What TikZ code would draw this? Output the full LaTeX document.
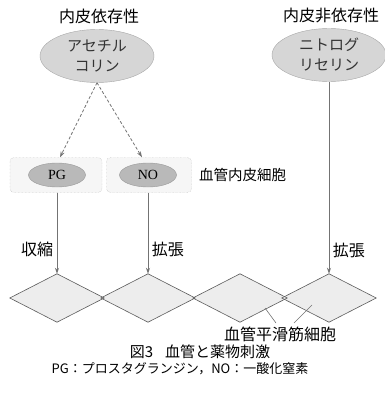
\documentclass[tikz,border=0pt]{standalone}
\usepackage{fontspec}
\setmainfont{Liberation Serif}
\newfontfamily\jpfont{Noto Sans CJK JP}
\usetikzlibrary{arrows.meta,positioning,shapes.geometric}
\definecolor{stipple}{gray}{0.84}
\definecolor{linegray}{gray}{0.45}
\tikzset{
  jp/.style={font=\jpfont\fontsize{16}{19}\selectfont, text=black},
  drug/.style={ellipse, draw=gray!70, fill=stipple, inner sep=0pt, align=center,
    minimum width=114pt, minimum height=53pt, font=\jpfont\fontsize{15}{20}\selectfont, text=gray!40!black},
  mediator/.style={ellipse, draw=gray!80, fill=gray!55, inner sep=0pt,
    minimum width=57pt, minimum height=24pt, font=\fontsize{14}{15}\selectfont},
  cellbox/.style={draw=gray!65, densely dotted, rounded corners=4pt, fill=gray!7,
    minimum height=35pt},
  muscle/.style={diamond, fill=gray!14, inner sep=0pt, minimum width=94pt, minimum height=48pt},
  feed/.style={-{Stealth[length=6pt,width=4pt]}, linegray, line width=1pt},
  dashed feed/.style={feed, densely dashed, line width=0.8pt},
}

\begin{document}
\begin{tikzpicture}[x=1pt, y=-1pt]
  \useasboundingbox (0,0) rectangle (384,396);

  % Drugs
  \node[jp] (deplabel) at (99,16) {内皮依存性};
  \node[jp] (indeplabel) at (331,16) {内皮非依存性};
  \node[drug] (ach) at (97,56) {アセチル\\コリン};
  \node[drug] (ntg) at (329,55) {ニトログ\\リセリン};

  % Endothelium
  \node[cellbox, minimum width=92pt] (box1) at (56,175) {};
  \node[cellbox, minimum width=85pt] (box2) at (149,175) {};
  \node[mediator] (pg) at (57,175) {PG};
  \node[mediator] (no) at (148,175) {NO};
  \node[jp, font=\jpfont\fontsize{14.5}{17}\selectfont, right=4pt of box2] (endo) {血管内皮細胞};

  % Smooth muscle cells
  \foreach \x [count=\i] in {57,148,240,329}
    \node[muscle] (cell\i) at (\x,298) {};
  \foreach \i in {1,...,4}
    \draw[gray!70!black, line width=0.6pt] (cell\i.north) -- (cell\i.east) -- (cell\i.south) -- (cell\i.west) -- cycle;

  % Arrows
  \draw[dashed feed] (ach.south) -- ([xshift=4pt]box1.north);
  \draw[dashed feed] (ach.south) -- ([xshift=-7pt]box2.north);
  \draw[feed] (pg |- box1.south) -- node[pos=0.7, left, jp] {収縮} (cell1.north);
  \draw[feed] (no |- box2.south) -- node[pos=0.7, right, jp] {拡張} (cell2.north);
  \draw[feed] (ntg.south) -- node[pos=0.88, right, jp] {拡張} (cell4.north);

  % Leader lines
  \node[jp] (smooth) at (280,334) {血管平滑筋細胞};
  \coordinate (lead1) at (265,308);
  \coordinate (lead2) at (312,305);
  \draw[linegray, line width=0.6pt] (lead1) -- ([xshift=-4pt]smooth.north);
  \draw[linegray, line width=0.6pt] (lead2) -- ([xshift=14pt]smooth.north);

  % Caption
  \node[jp, font=\jpfont\fontsize{15}{17}\selectfont] (caption) at (200,352) {図3\hspace{12pt}血管と薬物刺激};
  \node[font=\jpfont\fontsize{13}{15}\selectfont] (legend) at (180,369) {PG：プロスタグランジン，NO：一酸化窒素};
\end{tikzpicture}
\end{document}
